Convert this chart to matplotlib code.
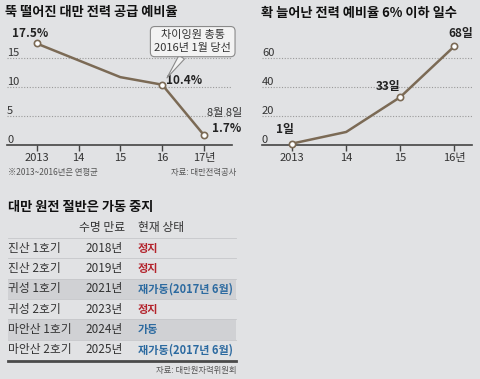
import matplotlib
matplotlib.use("Agg")
import matplotlib.pyplot as plt
from matplotlib.patches import Rectangle

plt.rcParams['font.family'] = ['Noto Sans CJK KR', 'DejaVu Sans']

# 대만 전력 공급 예비율 (%)
reserve_years = [2013, 2014, 2015, 2016, 2017]
reserve_ticks = ["2013", "14", "15", "16", "17년"]
reserve_rate = [17.5, 14.6, 11.7, 10.4, 1.7]
reserve_marked = [0, 3, 4]

# 예비율 6% 이하 일수
days_years = [2013, 2014, 2015, 2016]
days_ticks = ["2013", "14", "15", "16년"]
days_low = [1, 9, 33, 68]
days_marked = [0, 2, 3]

# 원전 표
plants = ["진산 1호기", "진산 2호기", "귀성 1호기", "귀성 2호기", "마안산 1호기", "마안산 2호기"]
expiry = ["2018년", "2019년", "2021년", "2023년", "2024년", "2025년"]
status = ["정지", "정지", "재가동(2017년 6월)", "정지", "가동", "재가동(2017년 6월)"]

BG = "#e1e2e4"
LINE = "#7b6a55"
RED = "#b3232c"
BLUE = "#2c6aa0"
DARK = "#333333"

W, H = 480, 379
fig = plt.figure(figsize=(4.8, 3.79), dpi=100, facecolor=BG)


def box(x0, y_bottom, w, h):
    return [x0 / W, 1 - y_bottom / H, w / W, h / H]


def style_axes(ax, ticks, labels, yticks):
    ax.set_facecolor("none")
    for s in ["top", "right", "left"]:
        ax.spines[s].set_visible(False)
    ax.spines["bottom"].set_color("#444444")
    ax.spines["bottom"].set_linewidth(1.2)
    ax.set_xticks(ticks)
    ax.set_xticklabels(labels, fontsize=8, color=DARK)
    ax.tick_params(axis="x", length=4, width=1, color="#444444", pad=2)
    ax.set_yticks([])
    for v in yticks:
        if v > 0:
            ax.axhline(v, color="#9a9a9a", lw=0.8, ls=(0, (1, 1.5)), zorder=1)
        ax.text(0.0, v, str(v), transform=ax.get_yaxis_transform(),
                fontsize=8, color=DARK, ha="left", va="bottom")


# 왼쪽 차트
ax1 = fig.add_axes(box(7, 145, 225, 115))
ax1.set_xlim(2012.29, 2017.67)
ax1.set_ylim(0, 115 / 5.8)
style_axes(ax1, reserve_years, reserve_ticks, [0, 5, 10, 15])
ax1.plot(reserve_years, reserve_rate, color=LINE, lw=1.8, zorder=3, clip_on=False)
ax1.plot([reserve_years[i] for i in reserve_marked], [reserve_rate[i] for i in reserve_marked],
         "o", ms=4.5, mfc="white", mec=LINE, mew=1.2, zorder=4, clip_on=False)
kw = dict(textcoords="offset points", fontsize=8.5, fontweight="bold", color="#222222",
          ha="center", va="center")
ax1.annotate("17.5%", (reserve_years[0], reserve_rate[0]), xytext=(-5, 7), **kw)
ax1.annotate("10.4%", (reserve_years[3], reserve_rate[3]), xytext=(16, 3), **kw)
ax1.annotate("1.7%", (reserve_years[4], reserve_rate[4]), xytext=(16, 5), **kw)
ax1.annotate("8월 8일", (reserve_years[4], reserve_rate[4]), xytext=(15, 16),
             textcoords="offset points", fontsize=8, color=DARK, ha="center", va="center")
ax1.annotate("차이잉원 총통\n2016년 1월 당선", (reserve_years[3], reserve_rate[3]), xytext=(22, 31),
             textcoords="offset points", fontsize=8, color=DARK, ha="center", va="center",
             linespacing=1.3,
             bbox=dict(boxstyle="round,pad=0.35,rounding_size=0.4", fc="#f3f3f3", ec="#8a8a8a", lw=0.8),
             arrowprops=dict(arrowstyle="wedge,tail_width=0.6,shrink_factor=0.5", fc="#f3f3f3",
                             ec="#8a8a8a", lw=0.8, shrinkA=0, shrinkB=6))

# 오른쪽 차트
ax2 = fig.add_axes(box(262, 145, 210, 115))
ax2.set_xlim(2012.44, 2016.33)
ax2.set_ylim(0, 115 / 1.45)
style_axes(ax2, days_years, days_ticks, [0, 20, 40, 60])
ax2.plot(days_years, days_low, color=LINE, lw=1.8, zorder=3, clip_on=False)
ax2.plot([days_years[i] for i in days_marked], [days_low[i] for i in days_marked],
         "o", ms=4.5, mfc="white", mec=LINE, mew=1.2, zorder=4, clip_on=False)
ax2.annotate("1일", (days_years[0], days_low[0]), xytext=(-5, 10), **kw)
ax2.annotate("33일", (days_years[2], days_low[2]), xytext=(-9, 8), **kw)
ax2.annotate("68일", (days_years[3], days_low[3]), xytext=(5, 9), **kw)

# 전체 텍스트/표 (픽셀 좌표)
ov = fig.add_axes([0, 0, 1, 1], zorder=-1)
ov.set_xlim(0, W)
ov.set_ylim(H, 0)
ov.axis("off")
ov.set_facecolor("none")

ov.text(5, 12, "뚝 떨어진 대만 전력 공급 예비율", fontsize=9.5, fontweight="bold", color="#111111", va="center")
ov.text(261, 13, "확 늘어난 전력 예비율 6% 이하 일수", fontsize=9.5, fontweight="bold", color="#111111", va="center")
ov.text(8, 172, "※2013~2016년은 연평균", fontsize=6, color="#555555", va="center")
ov.text(236, 172, "자료: 대만전력공사", fontsize=6, color="#555555", va="center", ha="right")

ov.text(8, 207, "대만 원전 절반은 가동 중지", fontsize=9.5, fontweight="bold", color="#111111", va="center")
ov.text(102, 228, "수명 만료", fontsize=8.5, color=DARK, ha="center", va="center")
ov.text(138, 228, "현재 상태", fontsize=8.5, color=DARK, ha="left", va="center")

top, rh = 238, 20.3
for i, (p, e, s) in enumerate(zip(plants, expiry, status)):
    y0 = top + i * rh
    if i in (2, 4):
        ov.add_patch(Rectangle((8, y0), 228, rh, fc="#d0d1d4", ec="none"))
    ov.plot([8, 236], [y0, y0], color="#c6c7ca", lw=0.6)
    yc = y0 + rh / 2
    ov.text(8, yc, p, fontsize=8.5, color=DARK, va="center")
    ov.text(85, yc, e, fontsize=8.5, color=DARK, va="center")
    ov.text(138, yc, s, fontsize=8, fontweight="bold", color=RED if s == "정지" else BLUE, va="center")
ov.plot([8, 236], [top + 6 * rh + 1, top + 6 * rh + 1], color="#4a4a4a", lw=2)
ov.text(236, 370, "자료: 대만원자력위원회", fontsize=6, color="#555555", va="center", ha="right")

fig.savefig("out.png", dpi=100, facecolor=BG)
